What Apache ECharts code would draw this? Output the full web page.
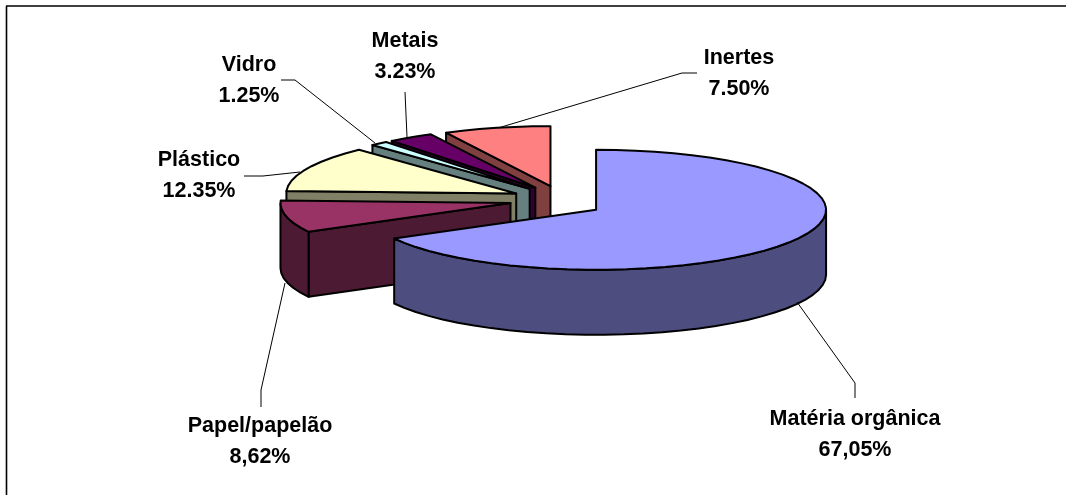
<!DOCTYPE html>
<html>
<head>
<meta charset="utf-8">
<style>html,body{margin:0;padding:0;background:#fff}#c{width:1066px;height:495px}</style>
<script src="https://cdn.jsdelivr.net/npm/echarts@6/dist/echarts.min.js"></script>
</head>
<body>
<div id="c"></div>
<script>
// Data
var categories = ['Matéria orgânica', 'Papel/papelão', 'Plástico', 'Vidro', 'Metais', 'Inertes'];
var values = [67.05, 8.62, 12.35, 1.25, 3.23, 7.50];
var valueLabels = ['67,05%', '8,62%', '12.35%', '1.25%', '3.23%', '7.50%'];
var topColors = ['#9999FF', '#993366', '#FFFFCC', '#CCFFFF', '#660066', '#FF8080'];
var wallColors = ['#4D4D80', '#4D1A33', '#808066', '#668080', '#330033', '#804040'];

// Layout
var pie = {cx: 557.5, cy: 201, rx: 230, ry: 60, depth: 65, explodeX: 47.5, explodeY: 15, explodeTurn: 5};
var labelCentres = [[855, 419], [260, 426], [199, 160], [249, 65], [405, 41], [739, 58]];
var leaderLines = [
  [[855, 398], [855, 383], [797, 302]],
  [[261, 407], [261, 390], [285, 283]],
  [[244, 176], [263, 176], [300, 172]],
  [[281, 80], [295, 80], [375, 143]],
  [[405, 92], [407, 137]],
  [[697, 73], [682, 73], [498, 128]]
];
var lineGap = 31, fontSize = 21.5;

var total = values.reduce(function (a, b) { return a + b; }, 0);
var starts = [];
values.reduce(function (acc, v, i) { starts[i] = acc; return acc + v; }, 0);
var RAD = Math.PI / 180;

function renderSlice(params, api) {
  var i = api.value(0), v = api.value(1);
  var a0 = starts[i] / total * 360, a1 = a0 + v / total * 360, mid = (a0 + a1) / 2 + pie.explodeTurn;
  var cx = pie.cx + pie.explodeX * Math.sin(mid * RAD);
  var cy = pie.cy - pie.explodeY * Math.cos(mid * RAD);
  function P(a, dz) {
    return [cx + pie.rx * Math.sin(a * RAD), cy - pie.ry * Math.cos(a * RAD) + (dz || 0)];
  }
  function arc(from, to, dz) {
    var pts = [], n = Math.max(1, Math.ceil(Math.abs(to - from) / 5));
    for (var k = 0; k <= n; k++) pts.push(P(from + (to - from) * k / n, dz));
    return pts;
  }
  function poly(points, fill) {
    return {type: 'polygon', shape: {points: points},
      style: {fill: fill, stroke: '#000', lineWidth: 2, lineJoin: 'round'}};
  }
  var d = pie.depth, children = [], wall = wallColors[i];
  // Radial walls facing the viewer
  if (Math.sin(a0 * RAD) < -1e-6) {
    var p = P(a0);
    children.push(poly([[cx, cy], p, [p[0], p[1] + d], [cx, cy + d]], wall));
  }
  if (Math.sin(a1 * RAD) > 1e-6) {
    var q = P(a1);
    children.push(poly([[cx, cy], q, [q[0], q[1] + d], [cx, cy + d]], wall));
  }
  // Front part of the rim
  var f0 = Math.max(a0, 90), f1 = Math.min(a1, 270);
  if (f1 > f0) {
    children.push(poly(arc(f0, f1, 0).concat(arc(f1, f0, d)), wall));
  }
  // Top face
  children.push(poly([[cx, cy]].concat(arc(a0, a1, 0)), topColors[i]));
  return {type: 'group', children: children};
}

var textStyle = {fill: '#000', fontFamily: 'Liberation Sans, Arial, sans-serif', fontWeight: 'bold',
  fontSize: fontSize, align: 'center', verticalAlign: 'middle'};
var graphics = [
  {type: 'line', shape: {x1: 6, y1: 6, x2: 1066, y2: 6}, style: {stroke: '#000', lineWidth: 1.6}},
  {type: 'line', shape: {x1: 6.5, y1: 6, x2: 6.5, y2: 495}, style: {stroke: '#000', lineWidth: 1.6}}
];
leaderLines.forEach(function (pts) {
  graphics.push({type: 'polyline', z: 10, shape: {points: pts}, style: {stroke: '#000', lineWidth: 1, fill: null}});
});
categories.forEach(function (name, i) {
  var c = labelCentres[i];
  graphics.push({type: 'text', z: 11, x: c[0], y: c[1], style: Object.assign({text: name}, textStyle)});
  graphics.push({type: 'text', z: 11, x: c[0], y: c[1] + lineGap, style: Object.assign({text: valueLabels[i]}, textStyle)});
});

var chart = echarts.init(document.getElementById('c'), null, {renderer: 'canvas'});
chart.setOption({
  animation: false,
  backgroundColor: '#fff',
  graphic: {elements: graphics},
  series: [{
    type: 'custom',
    coordinateSystem: 'none',
    silent: true,
    renderItem: renderSlice,
    encode: {value: 1},
    // Back-to-front painting order: last slice first
    data: values.map(function (v, i) { return {name: categories[i], value: [i, v]}; }).reverse()
  }]
});
</script>
</body>
</html>
